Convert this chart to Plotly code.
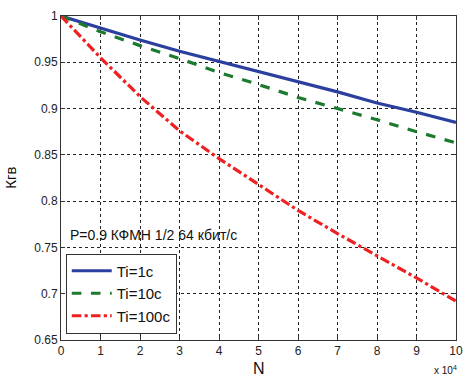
import plotly.graph_objects as go

N = [0, 1, 2, 3, 4, 5, 6, 7, 8, 9, 10]
k_ti1 = [1.0, 0.987, 0.974, 0.962, 0.951, 0.940, 0.929, 0.918, 0.906, 0.896, 0.885]
k_ti10 = [1.0, 0.983, 0.968, 0.954, 0.939, 0.926, 0.912, 0.900, 0.888, 0.875, 0.863]
k_ti100 = [1.0, 0.955, 0.913, 0.876, 0.846, 0.818, 0.790, 0.765, 0.741, 0.717, 0.692]
names = ["Ti=1c", "Ti=10c", "Ti=100c"]
xticks = [0, 1, 2, 3, 4, 5, 6, 7, 8, 9, 10]
yticks = [0.65, 0.7, 0.75, 0.8, 0.85, 0.9, 0.95, 1.0]
yticktext = ["0.65", "0.7", "0.75", "0.8", "0.85", "0.9", "0.95", "1"]

fig = go.Figure()
fig.add_trace(go.Scatter(x=N, y=k_ti1, mode="lines", name=names[0],
                         line=dict(color="#2b3f9e", width=3.2)))
fig.add_trace(go.Scatter(x=N, y=k_ti10, mode="lines", name=names[1],
                         line=dict(color="#1c7a2e", width=3.2, dash="dash")))
fig.add_trace(go.Scatter(x=N, y=k_ti100, mode="lines", name=names[2],
                         line=dict(color="#ee2020", width=3.2, dash="dashdot")))

axis_common = dict(showline=True, linecolor="#333", linewidth=1, mirror="ticks",
                   ticks="inside", ticklen=4, tickcolor="#333",
                   showgrid=True, gridcolor="#222", griddash="dot", gridwidth=1,
                   zeroline=False, ticklabeloverflow="allow",
                   tickfont=dict(family="Liberation Sans, Arial", size=12, color="#222"))

fig.update_layout(
    width=467, height=376,
    margin=dict(l=61, r=4, t=16, b=36),
    paper_bgcolor="white", plot_bgcolor="white",
    font=dict(family="Liberation Sans, Arial", color="#222"),
    xaxis=dict(range=[0, 10], tickvals=xticks, **axis_common),
    yaxis=dict(range=[0.65, 1.0], tickvals=yticks, ticktext=yticktext, **axis_common),
    showlegend=True,
    legend=dict(x=0.012, y=0.02, xanchor="left", yanchor="bottom",
                bgcolor="white", bordercolor="#333", borderwidth=1,
                font=dict(size=15, color="#111"), tracegroupgap=0,
                itemwidth=40),
)
fig.add_annotation(text="P=0.9 КФМН 1/2 64 кбит/с", xref="paper", yref="paper",
                   x=0.018, y=0.325, xanchor="left", yanchor="middle", showarrow=False,
                   font=dict(size=14, color="#111"))
fig.add_annotation(text="Кгв", xref="paper", yref="paper", x=-0.13, y=0.5,
                   xanchor="center", yanchor="middle", showarrow=False, textangle=-90,
                   font=dict(size=15, color="#111"))
fig.add_annotation(text="N", xref="paper", yref="paper", x=0.5, y=-0.088,
                   xanchor="center", yanchor="middle", showarrow=False,
                   font=dict(size=16, color="#111"))
fig.add_annotation(text="x 10<sup>4</sup>", xref="paper", yref="paper", x=1.008, y=-0.093,
                   xanchor="right", yanchor="middle", showarrow=False,
                   font=dict(size=10, color="#111"))

fig.write_html("out.html", config={"displayModeBar": False},
               post_script="document.body.style.margin='0';document.body.style.overflow='hidden';")
